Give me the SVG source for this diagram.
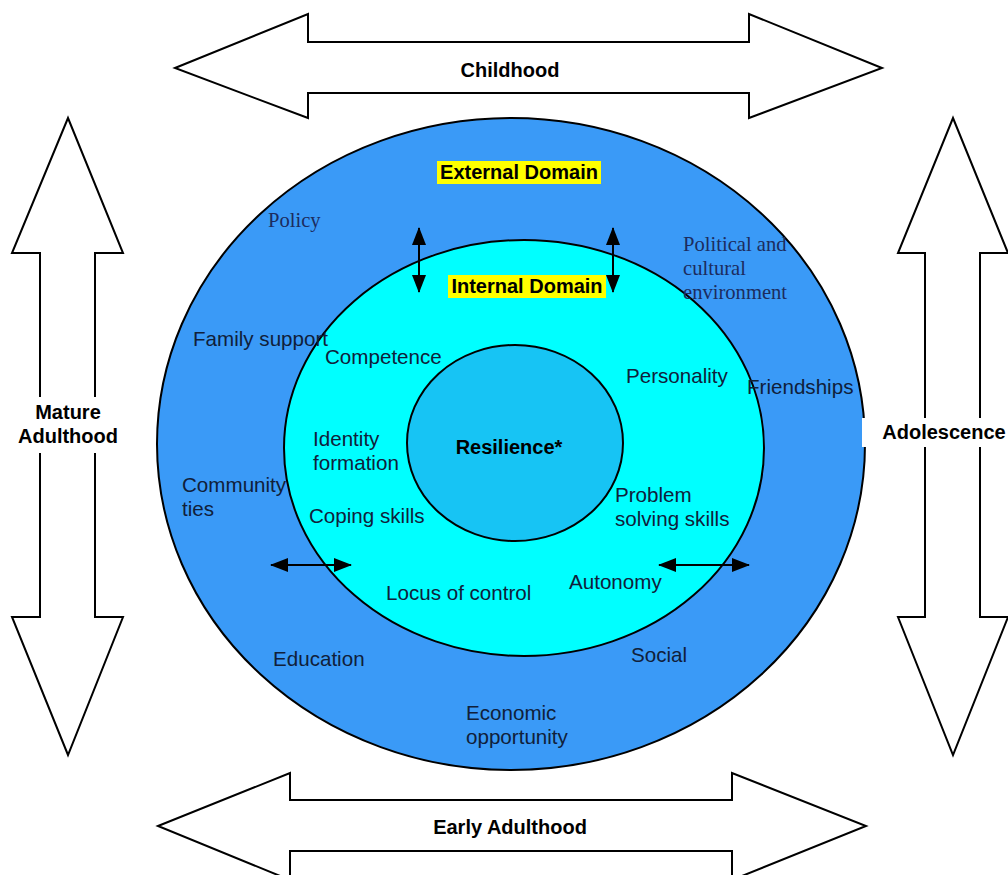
<svg xmlns="http://www.w3.org/2000/svg" width="1008" height="875" viewBox="0 0 1008 875">
<style>
.big{fill:#fff;stroke:#000;stroke-width:2}
.sans{font-family:"Liberation Sans",Arial,sans-serif;font-size:20.6px;fill:#10203a}
.serif{font-family:"Liberation Serif","Times New Roman",serif;font-size:20.6px;fill:#1c2c5e}
.bold{font-family:"Liberation Sans",Arial,sans-serif;font-size:20px;font-weight:bold;fill:#000}
.conn{stroke:#000;stroke-width:2;fill:none}
</style>
<defs>
<marker id="ah" viewBox="0 0 18 14" refX="17" refY="7" markerUnits="userSpaceOnUse" markerWidth="18" markerHeight="14" orient="auto-start-reverse">
<path d="M0,0 L18,7 L0,14 z" fill="#000"/>
</marker>
</defs>
<rect width="1008" height="875" fill="#fff"/>
<g id="childhood">
<path class="big" d="M175,68 L308,14 L308,42 L749,42 L749,14 L882,68 L749,118 L749,93 L308,93 L308,118 Z"/>
<text class="bold" x="510" y="77" text-anchor="middle">Childhood</text>
</g>
<g id="early-adulthood">
<path class="big" d="M158,826 L290,773 L290,800 L732,800 L732,773 L866,826 L732,880 L732,851 L290,851 L290,880 Z"/>
<text class="bold" x="510" y="834" text-anchor="middle">Early Adulthood</text>
</g>
<g id="mature-adulthood">
<path class="big" d="M68,118 L123,253 L95,253 L95,617 L123,617 L68,755 L12,617 L40,617 L40,253 L12,253 Z"/>
<rect x="16" y="397" width="104" height="56" fill="#fff"/>
<text class="bold" x="68" y="419" text-anchor="middle">Mature</text>
<text class="bold" x="68" y="443" text-anchor="middle">Adulthood</text>
</g>
<g id="outer-domain">
<ellipse cx="511" cy="444" rx="354" ry="326" fill="#3a9af7" stroke="#000" stroke-width="2"/>
</g>
<g id="adolescence">
<path class="big" d="M953,118 L1008,253 L980,253 L980,617 L1008,617 L953,755 L898,617 L925,617 L925,253 L898,253 Z"/>
<rect x="862" y="418" width="146" height="29" fill="#fff"/>
<text class="bold" x="944" y="439" text-anchor="middle">Adolescence</text>
</g>
<g id="internal-domain">
<ellipse cx="524" cy="448" rx="240" ry="208" fill="#00ffff" stroke="#000" stroke-width="2"/>
</g>
<g id="resilience">
<ellipse cx="515" cy="443" rx="108" ry="98" fill="#17c4f4" stroke="#000" stroke-width="2"/>
<text class="bold" x="509" y="454" text-anchor="middle">Resilience*</text>
</g>
<g id="labels-external">
<rect x="437" y="161" width="164" height="23" fill="#ffff00"/>
<text class="bold" x="519" y="179" text-anchor="middle">External Domain</text>
<text class="serif" x="268" y="227">Policy</text>
<text class="serif" x="683" y="251">Political and</text>
<text class="serif" x="683" y="275">cultural</text>
<text class="serif" x="683" y="299">environment</text>
<text class="sans" x="193" y="346">Family support</text>
<text class="sans" x="747" y="394">Friendships</text>
<text class="sans" x="182" y="492">Community</text>
<text class="sans" x="182" y="516">ties</text>
<text class="sans" x="273" y="666">Education</text>
<text class="sans" x="631" y="662">Social</text>
<text class="sans" x="466" y="720">Economic</text>
<text class="sans" x="466" y="744">opportunity</text>
</g>
<g id="labels-internal">
<rect x="448" y="275" width="158" height="23" fill="#ffff00"/>
<text class="bold" x="527" y="293" text-anchor="middle">Internal Domain</text>
<text class="sans" x="325" y="364">Competence</text>
<text class="sans" x="626" y="383">Personality</text>
<text class="sans" x="313" y="446">Identity</text>
<text class="sans" x="313" y="470">formation</text>
<text class="sans" x="309" y="523">Coping skills</text>
<text class="sans" x="615" y="502">Problem</text>
<text class="sans" x="615" y="526">solving skills</text>
<text class="sans" x="386" y="600">Locus of control</text>
<text class="sans" x="569" y="589">Autonomy</text>
</g>
<g id="connectors">
<line class="conn" x1="419" y1="228" x2="419" y2="292" marker-start="url(#ah)" marker-end="url(#ah)"/>
<line class="conn" x1="613" y1="228" x2="613" y2="292" marker-start="url(#ah)" marker-end="url(#ah)"/>
<line class="conn" x1="271" y1="565" x2="351" y2="565" marker-start="url(#ah)" marker-end="url(#ah)"/>
<line class="conn" x1="659" y1="565" x2="749" y2="565" marker-start="url(#ah)" marker-end="url(#ah)"/>
</g>
</svg>
